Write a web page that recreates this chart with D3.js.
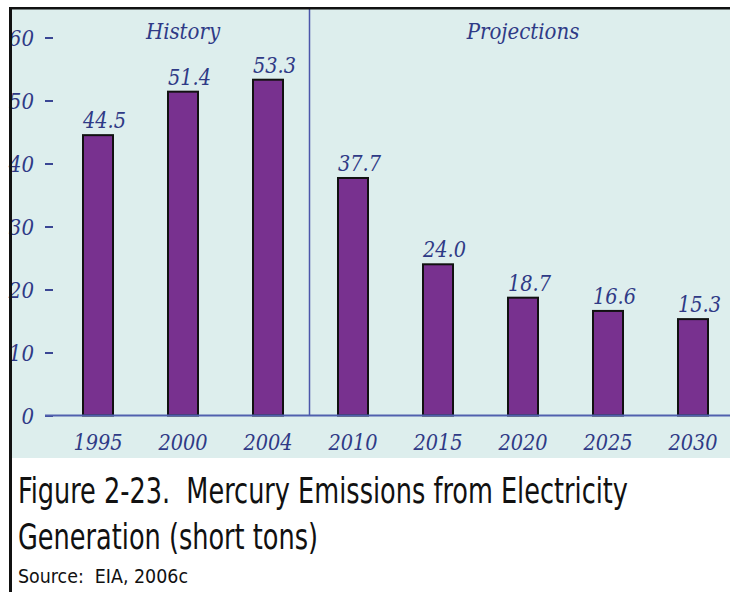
<!DOCTYPE html>
<meta charset="utf-8">
<script src="https://d3js.org/d3.v7.min.js"></script>
<head>
  <style>
    body { margin: 0; background: #fff; }
    .serif { font-family: "DejaVu Serif Condensed", "DejaVu Serif", serif; font-stretch: condensed; font-style: italic; fill: #2f3a86; }
    .cap { font-family: "DejaVu Sans Condensed", "DejaVu Sans", sans-serif; font-stretch: condensed; fill: #111; white-space: pre; }
  </style>
</head>
<body>
<div id="chart"></div>
<script>

  // data
  var years = ["1995", "2000", "2004", "2010", "2015", "2020", "2025", "2030"]
  var values = [44.5, 51.4, 53.3, 37.7, 24.0, 18.7, 16.6, 15.3]
  var yTicks = [0, 10, 20, 30, 40, 50, 60]
  var periods = ["History", "Projections"]
  var captionLines = ["Figure 2-23.  Mercury Emissions from Electricity", "Generation (short tons)"]
  var sourceText = "Source:  EIA, 2006c"

  var width = 730, height = 592

  var svg = d3.select("#chart").append("svg")
    .attr("width", width)
    .attr("height", height)

  // panel background
  svg.append("rect")
    .attr("x", 12).attr("y", 9)
    .attr("width", width - 12).attr("height", 449)
    .attr("fill", "#ddeeed")

  // scales
  var x = d3.scaleBand()
    .domain(years)
    .range([55.5, 735.5])
    .paddingInner(55 / 85)
    .paddingOuter(55 / 170)

  var y = d3.scaleLinear()
    .domain([0, 60])
    .range([415.5, 37.5])

  // y axis, tick dashes and italic labels
  var yAxis = svg.append("g")
    .attr("transform", "translate(53,0)")
    .call(d3.axisLeft(y).tickValues(yTicks).tickSize(8).tickPadding(11).tickFormat(d3.format("d")))
  yAxis.select(".domain").remove()
  yAxis.attr("font-family", null).attr("font-size", null)
  yAxis.selectAll("line").attr("stroke", "#3a4694").attr("stroke-width", 2)
  yAxis.selectAll("text")
    .attr("class", "serif")
    .attr("font-size", 22)
    .attr("dy", "0.36em")

  // divider between history and projections
  var divX = (x("2004") + x.bandwidth() + x("2010")) / 2 - 1
  svg.append("line")
    .attr("x1", divX).attr("x2", divX)
    .attr("y1", 9).attr("y2", y(0))
    .attr("stroke", "#4b56aa").attr("stroke-width", 1.5)

  // bars
  svg.selectAll("rect.bar")
    .data(values)
    .enter()
    .append("rect")
    .attr("class", "bar")
    .attr("x", function(d, i) { return x(years[i]) })
    .attr("y", function(d) { return y(d) })
    .attr("width", x.bandwidth())
    .attr("height", function(d) { return y(0) - y(d) })
    .attr("fill", "#78318f")
    .attr("stroke", "#111")
    .attr("stroke-width", 2)

  // baseline
  svg.append("line")
    .attr("x1", 45).attr("x2", width)
    .attr("y1", y(0)).attr("y2", y(0))
    .attr("stroke", "#5060ae").attr("stroke-width", 2)

  // value labels
  svg.selectAll("text.val")
    .data(values)
    .enter()
    .append("text")
    .attr("class", "serif val")
    .attr("x", function(d, i) { return x(years[i]) })
    .attr("y", function(d) { return y(d) - 7 })
    .attr("font-size", 21.5)
    .text(function(d) { return d.toFixed(1) })

  // year labels
  svg.selectAll("text.yr")
    .data(years)
    .enter()
    .append("text")
    .attr("class", "serif yr")
    .attr("x", function(d) { return x(d) + x.bandwidth() / 2 })
    .attr("y", 450)
    .attr("text-anchor", "middle")
    .attr("font-size", 21.5)
    .text(function(d) { return d })

  // period headings
  var periodCenters = [
    (x("1995") + x("2004") + x.bandwidth()) / 2,
    (x("2010") + x("2030") + x.bandwidth()) / 2
  ]
  svg.selectAll("text.period")
    .data(periods)
    .enter()
    .append("text")
    .attr("class", "serif period")
    .attr("x", function(d, i) { return periodCenters[i] })
    .attr("y", 39)
    .attr("text-anchor", "middle")
    .attr("font-size", 22)
    .text(function(d) { return d })

  // black frame on top and left
  svg.append("rect").attr("x", 9).attr("y", 7).attr("width", width - 9).attr("height", 2.5).attr("fill", "#111")
  svg.append("rect").attr("x", 9).attr("y", 7).attr("width", 3).attr("height", height - 7).attr("fill", "#111")

  // caption, tall narrow lettering
  var capWidths = [610, 300]
  svg.selectAll("g.capline")
    .data(captionLines)
    .enter()
    .append("g")
    .attr("class", "capline")
    .attr("transform", function(d, i) { return "translate(18," + (503 + i * 46) + ") scale(1,1.3)" })
    .append("text")
    .attr("class", "cap")
    .attr("font-size", 27)
    .attr("textLength", function(d, i) { return capWidths[i] })
    .attr("lengthAdjust", "spacingAndGlyphs")
    .text(function(d) { return d })

  svg.append("g")
    .attr("transform", "translate(18,583) scale(1,1.1)")
    .append("text")
    .attr("class", "cap")
    .attr("font-size", 17)
    .attr("textLength", 170)
    .attr("lengthAdjust", "spacingAndGlyphs")
    .text(sourceText)

</script>
</body>
